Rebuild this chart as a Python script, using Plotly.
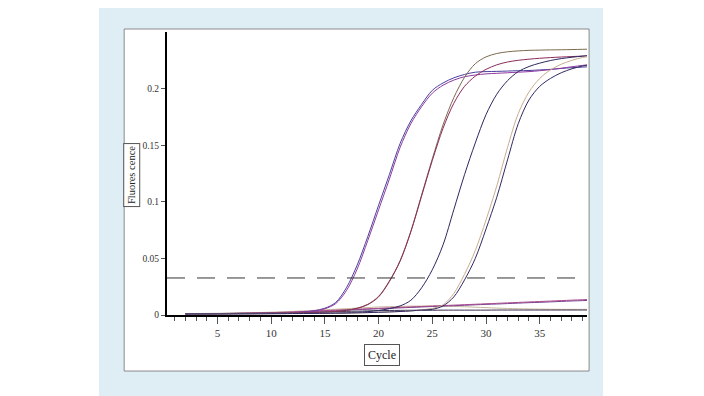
import plotly.graph_objects as go

# ---------------- data ----------------
cycles = list(range(2, 41))

a1 = [0.0010,0.0010,0.0011,0.0011,0.0012,0.0012,0.0013,0.0014,0.0015,0.0017,0.0020,0.0026,0.0038,0.0060,0.0110,0.0240,0.0440,0.0695,0.0970,0.1240,0.1515,0.1715,0.1860,0.1985,0.2050,0.2095,0.2125,0.2145,0.2150,0.2152,0.2155,0.2158,0.2160,0.2165,0.2170,0.2178,0.2185,0.2190,0.2195]
a2 = [0.0010,0.0010,0.0010,0.0011,0.0011,0.0012,0.0012,0.0013,0.0014,0.0016,0.0019,0.0024,0.0035,0.0055,0.0100,0.0215,0.0405,0.0660,0.0930,0.1200,0.1480,0.1690,0.1840,0.1960,0.2030,0.2075,0.2105,0.2120,0.2130,0.2135,0.2140,0.2145,0.2150,0.2158,0.2168,0.2180,0.2193,0.2205,0.2215]
b1 = [0.0012,0.0012,0.0012,0.0013,0.0013,0.0014,0.0014,0.0015,0.0016,0.0017,0.0018,0.0020,0.0022,0.0026,0.0032,0.0042,0.0060,0.0095,0.0165,0.0300,0.0480,0.0740,0.1060,0.1380,0.1680,0.1920,0.2100,0.2220,0.2280,0.2310,0.2325,0.2333,0.2338,0.2340,0.2342,0.2343,0.2345,0.2347,0.2350]
b2 = [0.0011,0.0011,0.0011,0.0012,0.0012,0.0013,0.0013,0.0014,0.0015,0.0016,0.0017,0.0019,0.0021,0.0025,0.0031,0.0041,0.0058,0.0092,0.0160,0.0295,0.0475,0.0735,0.1050,0.1365,0.1650,0.1870,0.2020,0.2110,0.2170,0.2210,0.2235,0.2250,0.2260,0.2268,0.2274,0.2279,0.2283,0.2287,0.2290]
c1 = [0.0010,0.0010,0.0010,0.0010,0.0011,0.0011,0.0011,0.0012,0.0012,0.0013,0.0013,0.0014,0.0015,0.0016,0.0018,0.0020,0.0024,0.0030,0.0040,0.0056,0.0080,0.0130,0.0240,0.0400,0.0620,0.0930,0.1240,0.1520,0.1770,0.1950,0.2070,0.2150,0.2195,0.2225,0.2248,0.2265,0.2277,0.2287,0.2295]
d1 = [0.0010,0.0010,0.0010,0.0010,0.0010,0.0011,0.0011,0.0011,0.0012,0.0012,0.0013,0.0013,0.0014,0.0015,0.0016,0.0017,0.0019,0.0021,0.0024,0.0027,0.0031,0.0036,0.0046,0.0058,0.0090,0.0190,0.0360,0.0570,0.0840,0.1140,0.1480,0.1780,0.1970,0.2090,0.2165,0.2215,0.2250,0.2275,0.2290]
d2 = [0.0010,0.0010,0.0010,0.0010,0.0010,0.0011,0.0011,0.0011,0.0012,0.0012,0.0013,0.0013,0.0014,0.0015,0.0016,0.0017,0.0019,0.0021,0.0024,0.0027,0.0031,0.0036,0.0044,0.0050,0.0080,0.0160,0.0310,0.0500,0.0760,0.1040,0.1370,0.1690,0.1900,0.2020,0.2090,0.2140,0.2175,0.2200,0.2215]
n1 = [0.0010,0.0011,0.0012,0.0013,0.0014,0.0015,0.0017,0.0019,0.0021,0.0024,0.0027,0.0031,0.0035,0.0039,0.0043,0.0047,0.0051,0.0055,0.0059,0.0063,0.0067,0.0071,0.0075,0.0079,0.0083,0.0087,0.0091,0.0095,0.0099,0.0103,0.0107,0.0111,0.0115,0.0119,0.0123,0.0127,0.0131,0.0135,0.0139]
n2 = [0.0010,0.0010,0.0011,0.0012,0.0013,0.0014,0.0015,0.0017,0.0019,0.0021,0.0024,0.0027,0.0031,0.0035,0.0039,0.0043,0.0047,0.0051,0.0055,0.0059,0.0063,0.0067,0.0071,0.0075,0.0079,0.0082,0.0086,0.0090,0.0094,0.0097,0.0101,0.0105,0.0109,0.0112,0.0116,0.0120,0.0124,0.0127,0.0131]
n3 = [0.0012,0.0013,0.0014,0.0015,0.0016,0.0018,0.0020,0.0022,0.0025,0.0028,0.0032,0.0036,0.0041,0.0046,0.0051,0.0056,0.0061,0.0066,0.0071,0.0074,0.0076,0.0078,0.0079,0.0079,0.0078,0.0076,0.0073,0.0069,0.0065,0.0061,0.0058,0.0055,0.0053,0.0052,0.0051,0.0050,0.0050,0.0050,0.0050]
n4 = [0.0010,0.0011,0.0012,0.0013,0.0014,0.0015,0.0016,0.0017,0.0018,0.0020,0.0022,0.0024,0.0026,0.0028,0.0030,0.0032,0.0034,0.0036,0.0038,0.0040,0.0041,0.0042,0.0042,0.0042,0.0043,0.0043,0.0043,0.0043,0.0043,0.0044,0.0044,0.0044,0.0044,0.0044,0.0044,0.0044,0.0044,0.0044,0.0044]

series = [
    (n3, "#c9b79c"), (n4, "#3a3050"), (n2, "#6f3f8f"), (n1, "#a8488a"),
    (a1, "#4a3f9f"), (a2, "#8e3a9e"),
    (b1, "#7d6a4e"), (b2, "#8b2c5a"),
    (c1, "#2b2860"),
    (d1, "#c9ad8f"), (d2, "#2e2a63"),
]

threshold = 0.0327
x_ticks = [5, 10, 15, 20, 25, 30, 35]
y_ticks = [0, 0.05, 0.1, 0.15, 0.2]
y_tick_labels = ["0", "0.05", "0.1", "0.15", "0.2"]

# ---------------- figure ----------------
fig = go.Figure()
for ys, col in series:
    fig.add_trace(go.Scatter(x=cycles, y=ys, mode="lines",
                             line=dict(color=col, width=1.0, shape="spline", smoothing=0.9),
                             showlegend=False, hoverinfo="skip"))

SERIF = "Liberation Serif, Times New Roman, serif"

fig.update_layout(
    width=704, height=396,
    margin=dict(l=159, r=125, t=24, b=89),
    paper_bgcolor="white",
    plot_bgcolor="rgba(0,0,0,0)",
    font=dict(family=SERIF, size=10, color="#333333"),
    xaxis=dict(range=[0.3, 39.4], showgrid=False, zeroline=False,
               showline=True, linecolor="black", linewidth=2,
               tickmode="array", tickvals=x_ticks,
               ticks="outside", ticklen=7, tickcolor="#555555", tickwidth=1,
               minor=dict(dtick=1, tick0=0, ticks="outside", ticklen=4,
                          tickcolor="#555555", tickwidth=1, showgrid=False),
               tickfont=dict(family=SERIF, size=11, color="#333333")),
    yaxis=dict(range=[0, 0.25], showgrid=False, zeroline=False,
               showline=True, linecolor="black", linewidth=2,
               tickmode="array", tickvals=y_ticks, ticktext=y_tick_labels,
               ticks="outside", ticklen=4, tickcolor="#555555", tickwidth=1,
               tickfont=dict(family=SERIF, size=9.5, color="#333333")),
    shapes=[
        dict(type="rect", xref="paper", yref="paper", layer="below",
             x0=-0.162, x1=1.038, y0=-0.32, y1=1.12,
             fillcolor="#deeef4", line=dict(width=0)),
        dict(type="rect", xref="paper", yref="paper", layer="below",
             x0=-0.102, x1=1.005, y0=-0.198, y1=1.0106,
             fillcolor="white", line=dict(color="#8a8a8a", width=1)),
        dict(type="line", xref="paper", yref="y", x0=0, x1=1,
             y0=threshold, y1=threshold,
             line=dict(color="#333333", width=1, dash="18px,12px")),
    ],
    annotations=[
        dict(text="Cycle", xref="paper", yref="paper", x=0.513, y=-0.141,
             xanchor="center", yanchor="middle",
             showarrow=False, font=dict(family=SERIF, size=12, color="#222222"),
             bordercolor="#555555", borderwidth=1, borderpad=3, bgcolor="white"),
        dict(text="Fluores cence", xref="paper", yref="paper", x=-0.083, y=0.495,
             xanchor="center", yanchor="middle",
             textangle=-90, showarrow=False,
             font=dict(family=SERIF, size=10.5, color="#222222"),
             bordercolor="#555555", borderwidth=1, borderpad=2, bgcolor="white"),
    ],
)

fig.write_html("out.html")
